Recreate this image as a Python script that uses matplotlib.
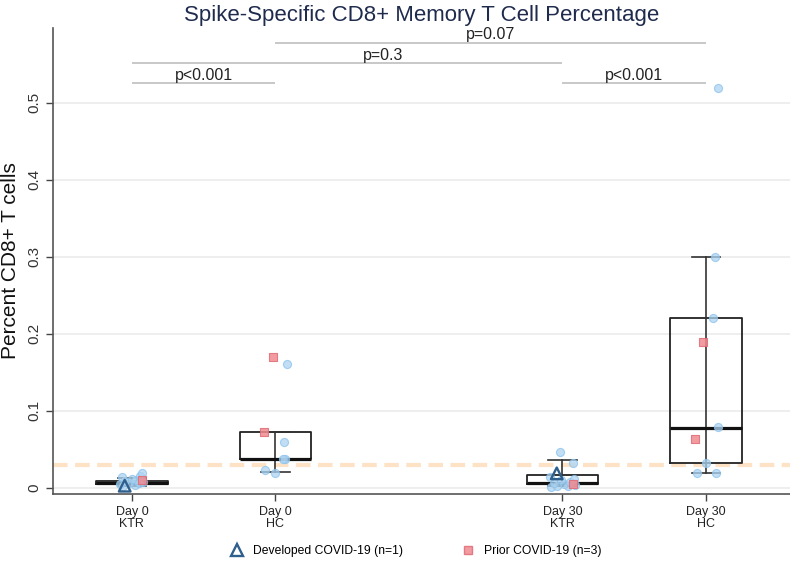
import numpy as np
import matplotlib.pyplot as plt
from matplotlib.lines import Line2D

plt.rcParams['font.family'] = ['Liberation Sans', 'DejaVu Sans']

# groups
labels = ['Day 0\nKTR', 'Day 0\nHC', 'Day 30\nKTR', 'Day 30\nHC']
pos = [1, 2, 4, 5]

# box stats: whislo, q1, med, q3, whishi
whislo = [0.003, 0.021, 0.002, 0.019]
q1 = [0.005, 0.037, 0.005, 0.032]
med = [0.007, 0.037, 0.007, 0.078]
q3 = [0.009, 0.072, 0.017, 0.220]
whishi = [0.013, 0.072, 0.036, 0.300]

# individual points (value, jitter offset)
blue_vals = [
    [0.002, 0.004, 0.005, 0.006, 0.007, 0.008, 0.009, 0.010, 0.012, 0.014, 0.016, 0.020],
    [0.161, 0.060, 0.037, 0.038, 0.023, 0.019],
    [0.047, 0.033, 0.001, 0.002, 0.003, 0.004, 0.005, 0.006, 0.008, 0.010, 0.012, 0.014],
    [0.519, 0.300, 0.220, 0.079, 0.032, 0.019, 0.019],
]
blue_jit = [
    [-0.06, 0.02, -0.08, 0.05, -0.02, 0.08, -0.05, 0.03, 0.0, -0.07, 0.06, 0.07],
    [0.08, 0.06, 0.07, 0.05, -0.07, 0.0],
    [-0.02, 0.07, -0.08, 0.04, -0.04, 0.09, 0.01, -0.06, 0.05, -0.01, 0.08, -0.09],
    [0.08, 0.06, 0.05, 0.08, 0.0, -0.06, 0.07],
]
tri_vals = [0.003, 0.019]
tri_pos = [0.95, 3.96]
red_vals = [0.010, 0.170, 0.072, 0.005, 0.190, 0.063]
red_pos = [1.07, 1.98, 1.92, 4.07, 4.98, 4.92]

# comparisons: x1, x2, y, label, label x
comp_x1 = [1, 1, 2, 4]
comp_x2 = [2, 4, 5, 5]
comp_y = [0.525, 0.551, 0.577, 0.525]
comp_lab = ['p<0.001', 'p=0.3', 'p=0.07', 'p<0.001']
comp_tx = [1.5, 2.75, 3.5, 4.5]

fig = plt.figure(figsize=(7.9, 5.68), dpi=100)
ax = fig.add_axes([0.067, 0.130, 0.933, 0.821])

for y in np.arange(0, 0.51, 0.1):
    ax.axhline(y, color='#ededed', lw=1.3, zorder=0)

ax.axhline(0.03, color='#fde2c6', lw=3, dashes=(3.5, 1.8), zorder=1)

stats = []
for i in range(4):
    stats.append(dict(whislo=whislo[i], q1=q1[i], med=med[i], q3=q3[i], whishi=whishi[i], fliers=[]))
ax.bxp(stats, positions=pos, widths=0.5, showfliers=False, patch_artist=False,
       boxprops=dict(color='#222222', lw=1.3),
       whiskerprops=dict(color='#333333', lw=1.2),
       capprops=dict(color='#333333', lw=1.2),
       medianprops=dict(color='#111111', lw=2.3),
       capwidths=0.2, zorder=3)
# whisker line runs through the box
ax.vlines(pos, q1, q3, color='#333333', lw=1.2, zorder=3)

for i in range(4):
    xs = [pos[i] + j for j in blue_jit[i]]
    ax.scatter(xs, blue_vals[i], s=34, facecolor='#acd4f2', edgecolor='#8cc2ec',
               lw=0.8, alpha=0.75, zorder=4)
ax.scatter(red_pos, red_vals, s=34, marker='s', facecolor='#f08b92', edgecolor='#e06a74',
           lw=0.8, alpha=0.85, zorder=5)
ax.scatter(tri_pos, tri_vals, s=70, marker='^', facecolor='none', edgecolor='#2f5f8c',
           lw=1.7, zorder=6)

for i in range(4):
    ax.hlines(comp_y[i], comp_x1[i], comp_x2[i], color='#c4c4c4', lw=1.3)
    ax.text(comp_tx[i], comp_y[i] + 0.001, comp_lab[i], ha='center', va='bottom',
            fontsize=11.5, color='#222222')

ax.set_xlim(0.45, 5.585)
ax.set_ylim(-0.008, 0.597)
ax.set_xticks(pos)
ax.set_xticklabels(labels, fontsize=9, color='#222222', linespacing=1.0)
ax.set_yticks([0, 0.1, 0.2, 0.3, 0.4, 0.5])
ax.set_yticklabels(['0', '0.1', '0.2', '0.3', '0.4', '0.5'], rotation=90, va='center',
                   fontsize=11, color='#333333')
ax.tick_params(axis='both', direction='out', length=5, color='#444444', width=1)
ax.set_ylabel('Percent CD8+ T cells', fontsize=15, color='#111111', labelpad=5)
for s in ['top', 'right']:
    ax.spines[s].set_visible(False)
for s in ['left', 'bottom']:
    ax.spines[s].set_color('#555555')
    ax.spines[s].set_linewidth(1.2)

ax.set_title('Spike-Specific CD8+ Memory T Cell Percentage', fontsize=16,
             color='#1f2b4d', pad=5)

handles = [
    Line2D([], [], ls='none', marker='^', markersize=8, mfc='none', mec='#2f5f8c', mew=1.7),
    Line2D([], [], ls='none', marker='s', markersize=6, mfc='#f08b92', mec='#e06a74', alpha=0.85),
]
fig.legend(handles, ['Developed COVID-19 (n=1)', 'Prior COVID-19 (n=3)'], loc='lower center',
           bbox_to_anchor=(0.527, 0.0), ncol=2, frameon=False, fontsize=8.7, columnspacing=4.9,
           handlelength=1.0, handletextpad=0.8)

fig.savefig('out.png', dpi=100)
